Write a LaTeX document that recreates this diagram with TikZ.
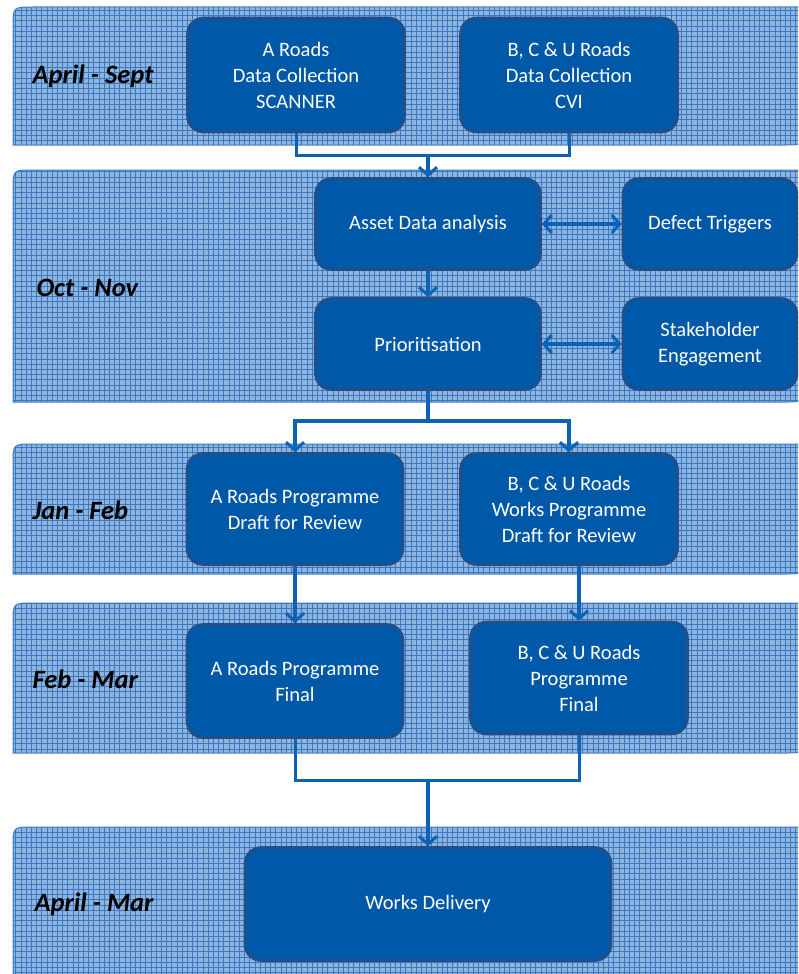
\documentclass[tikz,border=0pt]{standalone}
\usepackage{fontspec}
\setmainfont{Carlito}
\usetikzlibrary{arrows.meta}
\definecolor{boxblue}{HTML}{0058A8}
\definecolor{boxedge}{HTML}{234F86}
\definecolor{bandfill}{HTML}{8EB4DE}
\definecolor{bandline}{HTML}{3B78C2}
\definecolor{flowblue}{HTML}{0C62B5}
\tikzset{
  stage/.style={draw=boxedge, line width=2.6pt, fill=boxblue, rounded corners=16pt,
    text=white, align=center, font=\fontsize{20.5}{26}\selectfont},
  period/.style={anchor=west, font=\fontsize{26.5}{30}\selectfont\bfseries\itshape},
  barb/.tip={Straight Barb[length=8pt,width=18pt,line width=3pt]},
  link/.style={draw=flowblue, line width=3pt},
  flow/.style={link, line width=3.2pt, -barb},
  both/.style={flow, barb-barb}
}
\begin{document}
\begin{tikzpicture}[x=1pt,y=-1pt]
    \useasboundingbox (0,0) rectangle (798,974);
    \clip (0,0) rectangle (798,974);
    \foreach \t/\b in {7/145,170/402,444/574,603/753,827/990} {
        \begin{scope}
            \clip (13,\b) -- (13,{\t+20}) .. controls (13,\t) .. (33,\t) -- (803,\t)
                -- (803,{\b-18}) .. controls (803,\b) .. (785,\b) -- cycle;
            \fill[bandfill] (0,\t) rectangle (803,\b);
            \draw[bandline, line width=0.6pt, step=5.2pt] (13,\t) grid (803,\b);
        \end{scope}
        \draw[bandline, line width=1pt] (13,\b) -- (13,{\t+20}) .. controls (13,\t) .. (33,\t) -- (803,\t)
            -- (803,{\b-18}) .. controls (803,\b) .. (785,\b) -- cycle;
    }

    \node[period] (aprsep) at (29,76) {April - Sept};
    \node[period] (octnov) at (33,288) {Oct - Nov};
    \node[period] (janfeb) at (29,510) {Jan - Feb};
    \node[period] (febmar) at (29,679) {Feb - Mar};
    \node[period] (aprmar) at (31,904) {April - Mar};

    \node[stage, minimum width=217pt, minimum height=114pt] (scan) at (296,75) {A Roads\\Data Collection\\SCANNER};
    \node[stage, minimum width=217pt, minimum height=114pt] (cvi) at (569,75) {B, C \& U Roads\\Data Collection\\CVI};
    \node[stage, minimum width=225pt, minimum height=91pt] (asset) at (428,224) {Asset Data analysis};
    \node[stage, minimum width=174pt, minimum height=91pt] (defect) at (710,224) {Defect Triggers};
    \node[stage, minimum width=225pt, minimum height=91pt] (prior) at (428,344) {Prioritisation};
    \node[stage, minimum width=174pt, minimum height=91pt] (stake) at (710,344) {Stakeholder\\Engagement};
    \node[stage, minimum width=216pt, minimum height=111pt] (draftA) at (295,509) {A Roads Programme\\Draft for Review};
    \node[stage, minimum width=217pt, minimum height=111pt] (draftB) at (569,509) {B, C \& U Roads\\Works Programme\\Draft for Review};
    \node[stage, minimum width=216pt, minimum height=113pt] (finalA) at (295,681) {A Roads Programme\\Final};
    \node[stage, minimum width=217pt, minimum height=112pt] (finalB) at (579,678) {B, C \& U Roads\\Programme\\Final};
    \node[stage, minimum width=366pt, minimum height=113pt] (works) at (428,904) {Works Delivery};

    \coordinate (j1) at (428,155);
    \coordinate (j2) at (428,421);
    \coordinate (j3) at (428,780);

    \draw[link] (scan.south) |- (j1) -| (cvi.south);
    \draw[flow] (j1) -- (asset.north);
    \draw[flow] (asset.south) -- (prior.north);
    \draw[both] (asset.east) -- (defect.west);
    \draw[both] (prior.east) -- (stake.west);
    \draw[link, line width=3.2pt] (prior.south) -- (j2);
    \draw[flow] (j2) -| (draftA.north);
    \draw[flow] (j2) -| (draftB.north);
    \draw[flow] (draftA.south) -- (finalA.north);
    \draw[flow] (draftB.south -| finalB.north) -- (finalB.north);
    \draw[link] (finalA.south) |- (j3) -| (finalB.south);
    \draw[flow] (j3) -- (works.north);
\end{tikzpicture}
\end{document}
